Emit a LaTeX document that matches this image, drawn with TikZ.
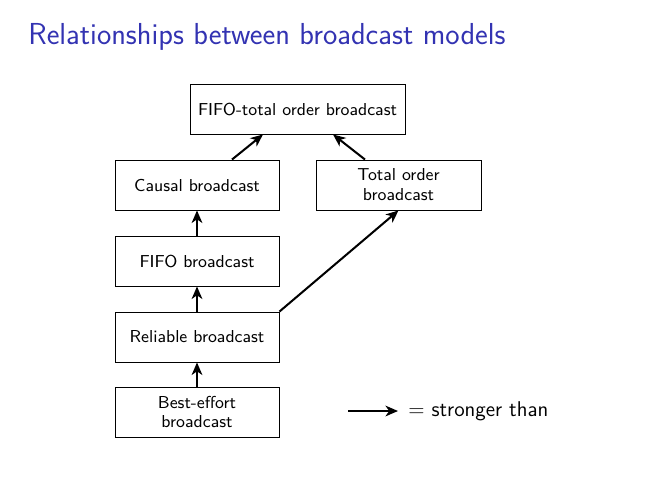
\documentclass[tikz,border=0pt]{standalone}
\usetikzlibrary{arrows.meta}
\definecolor{titleblue}{RGB}{51,51,178}
\begin{document}
\begin{tikzpicture}[x=0.5435pt,y=-0.5435pt,
  font=\sffamily,
  bbox/.style={draw, line width=0.5pt, minimum width=164*0.5435pt, minimum height=50*0.5435pt, align=center, inner sep=0pt, font=\sffamily\fontsize{9.4}{10.8}\selectfont},
  strong/.style={-{Stealth[length=6.8pt,width=5.8pt,inset=2pt]}, line width=1.1pt}]
\useasboundingbox (0,0) rectangle (668,489);
\node[anchor=base west, text=titleblue, font=\sffamily\fontsize{16.5}{19}\selectfont, inner sep=0pt] (title) at (28,44) {Relationships between broadcast models};
\node[bbox, minimum width=215*0.5435pt] (fto) at (297.5,109) {FIFO-total order broadcast};
\node[bbox] (causal) at (197,185) {Causal broadcast};
\node[bbox, minimum width=165*0.5435pt] (total) at (398.5,185) {Total order\\broadcast};
\node[bbox] (fifo) at (197,261) {FIFO broadcast};
\node[bbox] (rel) at (197,337) {Reliable broadcast};
\node[bbox] (best) at (197,412) {Best-effort\\broadcast};
\draw[strong] (causal.north -| 232,0) -- (fto.south -| 263,0);
\draw[strong] (total.north -| 365,0) -- (fto.south -| 333,0);
\draw[strong] (fifo) -- (causal);
\draw[strong] (rel) -- (fifo);
\draw[strong] (best) -- (rel);
\draw[strong] (rel.north east) -- (total.south);
\coordinate (la) at (348,411);
\coordinate (lb) at (398,411);
\node[anchor=west, inner sep=0pt, font=\sffamily\fontsize{11.6}{13}\selectfont] (legend) at (408,411) {= stronger than};
\draw[strong] (la) -- (lb);
\end{tikzpicture}
\end{document}
